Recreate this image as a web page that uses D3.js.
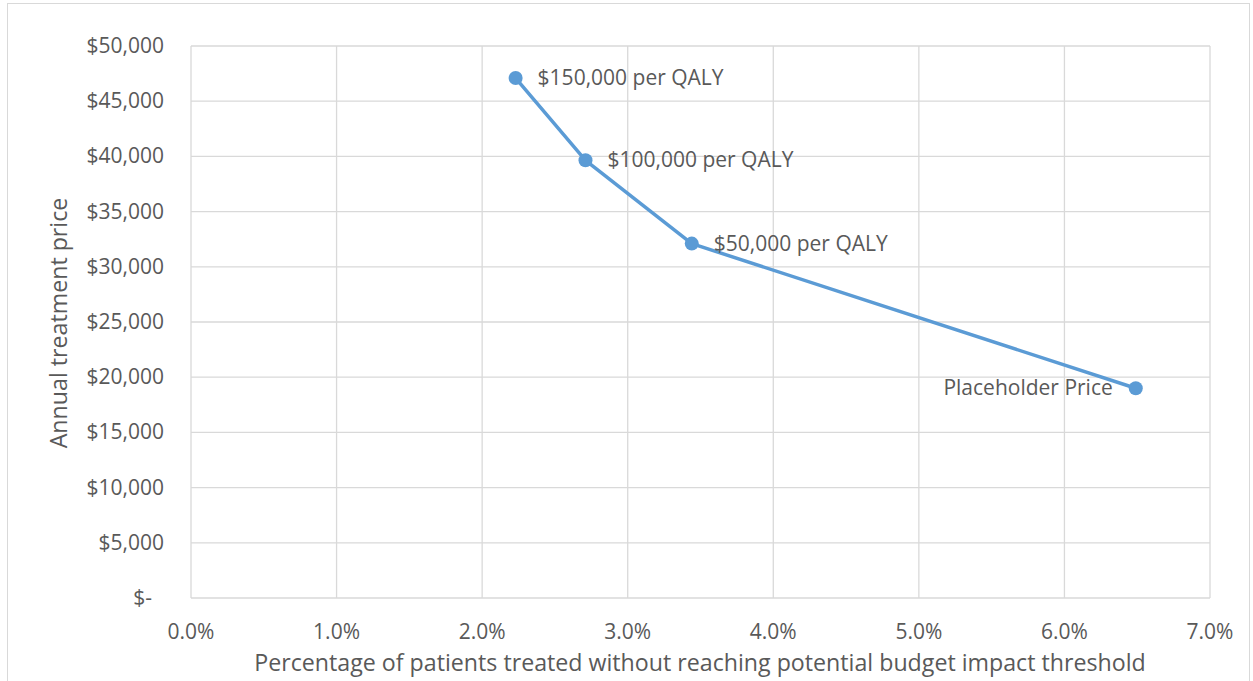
<!DOCTYPE html>
<html><head><meta charset="utf-8">
<script src="https://cdn.jsdelivr.net/npm/d3@7"></script>
<style>body{margin:0;background:#fff;} text{font-family:"Open Sans",sans-serif;fill:#595959;}</style>
</head><body><svg id="c" width="1253" height="681"></svg>
<script>
const xValues = [0.0223, 0.0271, 0.0344, 0.0649];
const yValues = [47100, 39650, 32100, 19000];
const pointLabels = ["$150,000 per QALY", "$100,000 per QALY", "$50,000 per QALY", "Placeholder Price"];
const xTicks = [0, 0.01, 0.02, 0.03, 0.04, 0.05, 0.06, 0.07];
const yTicks = [0, 5000, 10000, 15000, 20000, 25000, 30000, 35000, 40000, 45000, 50000];
const xTitle = "Percentage of patients treated without reaching potential budget impact threshold";
const yTitle = "Annual treatment price";

const svg = d3.select("#c");
svg.append("rect").attr("x",7.5).attr("y",3.5).attr("width",1242).attr("height",690).attr("fill","#fff").attr("stroke","#d9d9d9");
const L=191,R=1210,T=46,B=598;
const x=d3.scaleLinear().domain([0,0.07]).range([L,R]);
const y=d3.scaleLinear().domain([0,50000]).range([B,T]);

const g=svg.append("g");
g.selectAll(".vg").data(xTicks).join("line").attr("x1",d=>x(d)).attr("x2",d=>x(d)).attr("y1",T).attr("y2",B).attr("stroke","#d9d9d9").attr("stroke-width",1.3);
g.selectAll(".hg").data(yTicks).join("line").attr("y1",d=>y(d)).attr("y2",d=>y(d)).attr("x1",L).attr("x2",R).attr("stroke","#d9d9d9").attr("stroke-width",1.3);

const fmtY=d=>d===0?"$-":"$"+d3.format(",")(d);
g.selectAll(".yl").data(yTicks).join("text").attr("x",d=>d===0?152:164).attr("y",d=>y(d)+7).attr("text-anchor","end").attr("font-size",21).text(fmtY);
g.selectAll(".xl").data(xTicks).join("text").attr("x",d=>x(d)).attr("y",B+41).attr("text-anchor","middle").attr("font-size",21).text(d3.format(".1%"));

svg.append("text").attr("x",700).attr("y",671).attr("text-anchor","middle").attr("font-size",23.2).text(xTitle);
svg.append("text").attr("transform",`translate(67,323) rotate(-90)`).attr("text-anchor","middle").attr("font-size",23.2).text(yTitle);

const pts=xValues.map((v,i)=>({x:v,y:yValues[i],l:pointLabels[i]}));
svg.append("path").datum(pts).attr("d",d3.line().x(d=>x(d.x)).y(d=>y(d.y))).attr("fill","none").attr("stroke","#5b9bd5").attr("stroke-width",3.5).attr("stroke-linejoin","round");
svg.selectAll(".pt").data(pts).join("circle").attr("cx",d=>x(d.x)).attr("cy",d=>y(d.y)).attr("r",7).attr("fill","#5b9bd5");
svg.selectAll(".pl").data(pts).join("text").attr("font-size",21)
  .attr("x",(d,i)=>i===3?x(d.x)-23:x(d.x)+22)
  .attr("y",d=>y(d.y)+7)
  .attr("text-anchor",(d,i)=>i===3?"end":"start")
  .text(d=>d.l);
</script></body></html>
